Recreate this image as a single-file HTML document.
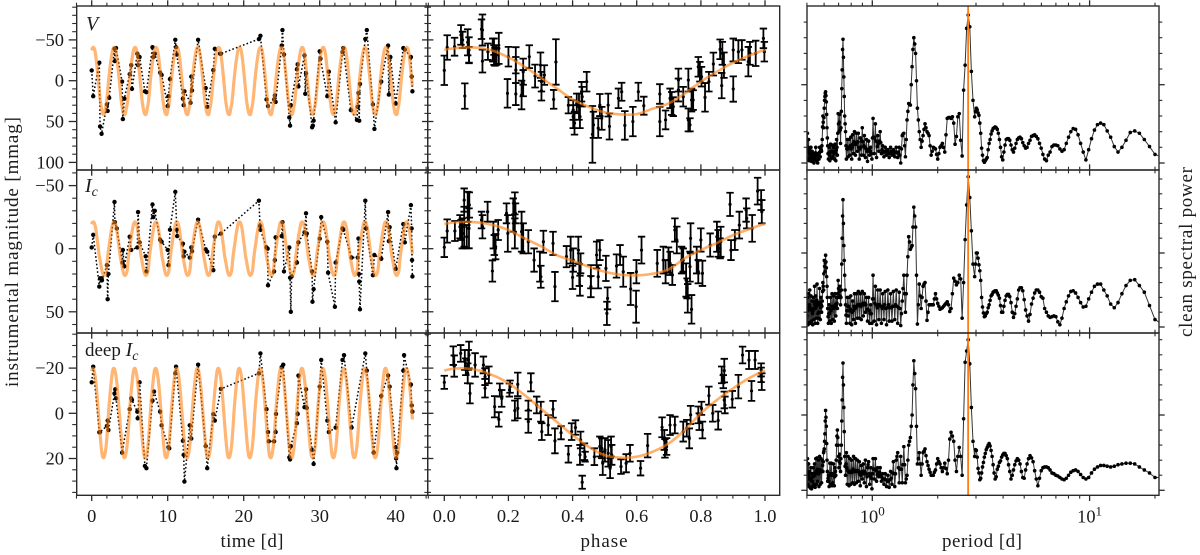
<!DOCTYPE html>
<html lang="en">
<head>
<meta charset="utf-8">
<title>Light curves, phase folds and periodograms</title>
<style>
html,body{margin:0;padding:0;background:#fff;}
svg{display:block;}
text{font-family:"Liberation Serif",serif;fill:#1c1c1c;}
</style>
</head>
<body>
<svg id="chart" xmlns="http://www.w3.org/2000/svg" width="1200" height="555" viewBox="0 0 1200 555">
  <defs>
    <clipPath id="clip-0-0"><rect x="76.7" y="6" width="351" height="164"/></clipPath>
    <clipPath id="clip-0-1"><rect x="76.7" y="170" width="351" height="163"/></clipPath>
    <clipPath id="clip-0-2"><rect x="76.7" y="333" width="351" height="162.3"/></clipPath>
    <clipPath id="clip-1-0"><rect x="427.7" y="6" width="352" height="164"/></clipPath>
    <clipPath id="clip-1-1"><rect x="427.7" y="170" width="352" height="163"/></clipPath>
    <clipPath id="clip-1-2"><rect x="427.7" y="333" width="352" height="162.3"/></clipPath>
    <clipPath id="clip-2-0"><rect x="807" y="6" width="352" height="164"/></clipPath>
    <clipPath id="clip-2-1"><rect x="807" y="170" width="352" height="163"/></clipPath>
    <clipPath id="clip-2-2"><rect x="807" y="333" width="352" height="162.3"/></clipPath>
  </defs>
  <g id="marks"></g>
  <g id="axes"></g>
  <text x="86" y="30" font-size="20" font-style="italic">V</text>
  <text x="85" y="192" font-size="20" font-style="italic">I<tspan dy="4" font-size="14">c</tspan></text>
  <text x="85" y="356" font-size="19">deep <tspan font-style="italic" font-size="20">I</tspan><tspan font-style="italic" dy="4" font-size="14">c</tspan></text>
  <text x="252" y="547" font-size="19" text-anchor="middle" textLength="63" lengthAdjust="spacing">time [d]</text>
  <text x="604" y="547" font-size="19" text-anchor="middle" textLength="47" lengthAdjust="spacing">phase</text>
  <text x="982" y="547" font-size="19" text-anchor="middle" textLength="80" lengthAdjust="spacing">period [d]</text>
  <text transform="translate(18,252) rotate(-90)" font-size="19" text-anchor="middle" textLength="270" lengthAdjust="spacing">instrumental magnitude [mmag]</text>
  <text transform="translate(1192,252) rotate(-90)" font-size="19" text-anchor="middle" textLength="170" lengthAdjust="spacing">clean spectral power</text>
</svg>
<script>
// ---------- time series (days, mmag) ----------
const timeV=[0,.2,1,1.1,1.3,2,2.1,2.3,3,3.05,
3.2,4,4.1,4.3,5,5.2,5.3,6,6.1,6.3,
7,7.2,8,8.1,8.3,9,9.2,10,10.1,10.3,
11,11.1,11.2,12,12.1,12.2,13,13.1,13.2,14,
15,15.2,16,16.2,16.9,17,22,22.2,23,23.2,
24,24.1,24.2,25,25.1,25.3,26,26.1,26.2,27,
27.1,27.2,28,28.1,28.2,29,29.1,29.2,30,30.1,
31,31.2,32.1,33,33.1,34.1,34.9,35,35.1,35.2,
35.3,36,36.2,37,37.2,38.1,39,39.1,39.3,40,
41,41.2,42,42.1,42.2];
const magV=[-12.6,19,-22,56,65,29,37,21,-39,-24,
-40,1,47,22,-8,-19,10,-33,-19,-29,
13,14,-41,-29,-33,-10,-7,31,19,-2,
-50,-41,-32,22,30,13,27,-5,12,-50,
9,32,-13,-39,-33,-33,-51,-55,23,31,
23,18,26,-43,-62,-32,45,55,30,-14,
-20,7,-31,16,-9,57,55,49,-36,-27,
19,-11,51,-35,-40,36,48,32,15,49,
4,-51,-62,29,59,1,-43,17,-29,28,
-40,-38,-29,-5,13];
const timeI=[0,.2,1,1.1,1.3,1.35,2,2.1,2.2,3,
3.05,3.3,4.05,4.1,4.3,5,5.2,6,6.1,6.3,
7.1,7.2,8,8.1,8.3,9,9.2,10,10.1,10.3,
11,11.2,11.25,12,12.1,12.2,12.9,13.1,13.2,14,
15,15.2,16,16.2,17,22,22.15,22.2,23,23.15,
23.2,24,24.1,24.2,25,25.1,25.3,26,26.1,26.2,
26.3,27,27.2,28,28.2,28.3,29,29.05,29.2,30,
30.2,31,31.1,32,32.1,33,33.1,34.2,35,35.1,
35.15,35.2,35.3,36,36.1,37,37.2,38.1,39,39.1,
39.2,40,41,41.2,42,42.1,42.15,42.2];
const magI=[-1,-11,30,23.5,23.5,25,13,40,20,-37,
-21,-16,11,1,14,-9.5,1,-1,-29,-5,
6,18,-35,-25,-30,-7,-5.5,1,13,-15,
-45,-15,-10,-4,6,2.4,7,-1,2,-23,
.5,2.4,17,-9.5,-12,-38,-18,-15,-1,0,
29,18,9,-9,-10,-21,18,-1,23,50,
22,11,-5,-13,-28,-12,18,42,32,-8,
-25,-5.5,19,46,11,-16,-15,7,7,-8,
20,26,48,-38,-16,21,5,8,-29,-6,
-17,16,-19.5,-5,-34.5,-16,9,22];
const timeD=[0,.2,1,1.1,2,2.1,2.2,3,3.1,3.2,
4,5,5.2,5.3,6,6.05,6.3,7,7.2,8,
8.2,9,9.2,10.1,10.2,11,11.1,12,12.1,12.2,
12.9,13.1,14,15,15.2,16,16.2,17,22,22.2,
23,23.2,23.3,24,24.2,24.25,25,25.2,26,26.1,
26.2,27,27.1,27.2,28,28.2,28.3,29,29.2,30,
30.2,31,31.2,32.1,33,33.2,34.2,36,36.2,37.1,
38.1,39,39.2,40,40.05,40.1,40.2,41,41.1,42,
42.1,42.2];
const magD=[-13.7,-20.6,8.4,8.3,5.6,3.2,7.4,-8.8,-10.6,-6.6,
17.4,-1.8,-6.6,-5.9,-.7,2.2,-13.7,23.3,24.3,-5.6,
-9.6,-.7,5.3,15,15.5,-17.7,-20.6,12.2,18.4,30.2,
5.3,11.2,-21.5,14.5,24.3,.4,3.2,-10.8,-17.7,-26.5,
-1.8,8.3,12.4,12.4,8.3,.3,-20.4,-21.5,19.5,20.4,
14.5,4.4,.3,-16.7,-2.7,-10.6,-2.4,16.2,22.4,-11.8,
-23.6,3.2,8.3,6.3,-23.6,-25.7,6.3,-26.5,-18.9,17.4,
-7.7,-16.7,-11.8,15,20,24.3,17.4,-18.9,-25.7,-12.7,
-3.5,-.7];

// ---------- phase-folded points (phase, mmag, error) ----------
const phaseV=[0,.009,.032,.052,.057,.064,.073,.077,.077,.116,
.119,.119,.136,.151,.155,.155,.158,.163,.17,.197,
.2,.223,.223,.223,.241,.246,.246,.265,.283,.3,
.303,.303,.312,.341,.348,.387,.402,.402,.406,.413,
.42,.423,.428,.43,.444,.462,.465,.48,.485,.491,
.511,.515,.543,.553,.563,.588,.605,.622,.672,.672,
.69,.704,.709,.714,.73,.73,.745,.761,.761,.766,
.771,.776,.792,.797,.802,.813,.825,.839,.86,.867,
.865,.872,.901,.901,.917,.928,.948,.953,.971,.995,.998];
const phaseMagV=[-12.7,-40.6,-41.6,-56,-50,18.8,-47,-37.6,-31.4,-63,
-62,-24,-35.5,-37.6,-41.6,-31.4,-29.4,-31.4,-39.6,15.5,
-29.4,-25,-13,16.3,17.5,-11,3,-29.4,-5.7,-19,
1.2,12.2,-6.9,22.8,-22.9,30,35.9,44,52,27.8,
31.8,44,13.5,19.6,1.2,65.7,54,58,29.8,46,
29.8,56,21.6,13.5,54.7,50,13.5,30.6,16.3,50,
48,21.6,27.8,31.8,-.8,11.4,19.6,-.8,48,54,
23.7,23.7,-17,-11,-4.9,20.4,1.2,-20.4,-38.4,-33.5,
6,-19,10.2,-37.6,-35.5,-37.6,-23.3,-33.5,-33.5,-51.8,-35.5];
const phaseErrV=[18,15,11,12,10,15.5,16,15.5,10,12,
19,14,10,14,10,12,11,12,19,17.5,
12,16,16,13.5,17.5,16,16,14,14,15.5,
12,12,12,11.5,27.8,10,12,14,14,12,
16,14,12,12,12,34.7,16,12,13.5,14,
14,16,12,11,17.5,18,11,11,12,18,
11.5,12,14,11.5,14,14,12,14,14,8,
14,12,12,12,12,17.5,12,14,12,14,
15.5,15.5,15.5,14,14,12,18,14,15.5,12,12];
const phaseI=[0,.009,.033,.049,.052,.056,.062,.062,.07,.073,
.078,.077,.116,.119,.135,.15,.153,.156,.16,.168,
.194,.198,.215,.22,.22,.222,.241,.246,.262,.28,
.298,.301,.309,.339,.345,.381,.394,.4,.402,.418,
.421,.423,.425,.457,.457,.48,.475,.485,.504,.507,
.509,.537,.548,.558,.581,.598,.599,.615,.664,.683,
.69,.699,.704,.711,.719,.725,.74,.745,.754,.757,
.759,.768,.771,.766,.787,.792,.8,.805,.829,.85,
.854,.86,.862,.891,.894,.906,.92,.941,.943,.96,
.977,.988,.99];
const phaseMagI=[-1.1,-14,-14,-17.4,-14.8,-12.1,-38.5,-17.4,-9.5,-33.2,
-34.6,-16.1,-22.7,-17.4,-29.3,17.7,-10.8,-2.9,-1.6,-14.8,
-28,-12.1,-26.6,-35.9,-12.1,-28,-13.5,-8.2,-5.5,9,
14.2,22.2,-5.5,-4.2,30,6.3,1.1,22.7,9,1.1,
20.8,29.3,11.6,22.2,30,22.2,5,1.1,15.6,51.2,
39.3,13.7,5,18.2,31.9,45.9,18.2,1.1,11.6,9,
18.2,9,11.6,20.8,-14.8,-6.9,9,9,24.8,31.4,
39.3,-8.2,48,14.2,9,18.2,-6.9,19.5,-2.9,-9.5,
-4.2,-.3,-5.5,-35.1,1.1,-6.9,-18.7,-30.6,-24,-16.1,
-45.6,-38.5,-29.3];
const phaseErrI=[7.7,9.2,7.9,9.2,7.9,11.9,9.2,15.8,9.2,11.9,
10,15.8,6.6,9.2,7.9,8.4,10.6,7.9,10,7.9,
7.9,14.5,13.2,8.7,11.9,7.9,15.8,11.9,9.2,9.2,
11.9,8.7,8.7,9.2,11.6,8.4,10.6,9.2,9.2,10.6,
8.7,7.9,7.9,9.2,8.4,9.2,10.6,7.9,10,9.2,
8.7,9.2,7.9,11.9,12.7,12.7,9.2,10.6,10.6,10.6,
9.2,10,9.2,7.9,9.2,10.6,10.6,9.2,13.2,7.9,
11.3,11.9,11.3,11.9,10.6,9.2,9.2,10,9.2,11.9,
10.6,7.9,11.9,9.2,7.9,7.9,10.6,9.2,7.9,10.6,
10.6,7.9,9.2];
const phaseD=[0,.028,.031,.051,.064,.067,.073,.077,.075,.08,
.096,.122,.127,.127,.139,.157,.17,.173,.179,.203,
.205,.22,.229,.229,.262,.262,.27,.288,.304,.301,
.324,.339,.345,.364,.387,.397,.409,.423,.425,.43,
.437,.439,.468,.485,.491,.494,.501,.511,.517,.52,
.522,.551,.567,.579,.612,.634,.679,.686,.688,.693,
.704,.719,.745,.756,.764,.768,.792,.795,.802,.805,
.825,.837,.854,.865,.873,.87,.873,.875,.898,.917,
.93,.95,.958,.969,.988,.99,.988];
const phaseMagD=[-13.7,-25.5,-20.9,-26.5,-23.6,-20.6,-17.7,-25.8,-23.6,-8.8,
-21.4,-21.4,-16.2,-11.1,-17,-2.9,2.7,-10.3,-6.6,-10.3,
-11.8,-1.2,-12.8,-2.2,3.7,-1.5,-13.7,-3.7,8.1,-.7,
5.2,-1.8,12.2,8.6,18.1,8.1,6.3,18.4,11.8,30.5,
17,19.2,19.2,14.7,15.5,22.1,16.2,17.7,24.3,14.7,
18.4,23.6,22.1,17.7,24.3,14.3,6.2,11.8,15.5,14.7,
5.2,5.2,8.1,6.6,11.1,.7,.7,3.7,-2.2,7.4,
-7.8,0,3.2,-17,-18.9,-14,-5.9,-3.7,-6.2,-11.8,
-25.8,-23.6,-9.9,-23.6,-17,-14,-19.2];
const phaseErrD=[2.9,4.1,4.7,3.7,4.4,3.7,4.4,5.9,4.4,4.4,
5.2,3.7,3.7,4.1,3.7,4.7,3.2,2.9,3.7,2.9,
2.7,4.4,5.2,4.4,4.9,4.1,4,3.7,3.7,4.4,
4.4,3.7,5.5,2.9,3.7,3.7,3.2,4.4,3.7,2.9,
3.7,2.2,3.7,4.4,4.4,5.2,5.2,5.9,4.4,4.4,
4.4,3.2,4,3.7,3.2,5.2,4.4,4.4,4.1,3.7,
4.4,3.7,4.4,3.7,4.4,4,3.7,3.7,2.9,3.7,
4,3.7,4,3.7,5.2,2.9,3.7,3.7,3.7,5.2,
3.7,4,4.4,4,3.2,3.7,2.9];

// ---------- fitted model read at fixed phases (mmag) ----------
const modelPhase=[0,.05,.1,.15,.2,.25,.3,.35,.4,.45,.5,.55,.6,.65,.7,.75,.8,.85,.9,.95,1];
const modelV=[-37.6,-40.4,-40.4,-36.8,-28.6,-17.2,-4.1,9.3,22.8,31.8,38.7,41.2,40.8,34.2,27.7,15.5,1.2,-11,-22,-30.6,-37.6];
const modelI=[-19.6,-21.1,-20.9,-18.8,-14.8,-8.2,-2.1,5,9.5,14.2,18.2,20.6,21.1,19.8,16.3,7.6,1,-4.5,-10.7,-15.4,-19.6];
const modelD=[-18.9,-19.9,-19.2,-16.9,-13.3,-8.1,-2.2,3.7,9.6,14.8,18.5,19.6,19.2,17,13.3,7.4,0,-5.9,-11,-15.5,-18.9];
const foldPeriodDays=[2.75];
const foldEpochDays=[0.01];
const modelTimeRange=[0,42.2];

// ---------- clean spectra: frequency (1/d) and power ----------
const specFreq=[2.000,1.994,1.988,1.982,1.976,1.970,1.964,1.958,1.952,1.946,
1.940,1.934,1.928,1.922,1.916,1.910,1.904,1.898,1.892,1.886,
1.880,1.874,1.868,1.862,1.856,1.850,1.844,1.838,1.832,1.826,
1.820,1.814,1.808,1.802,1.796,1.790,1.784,1.778,1.772,1.766,
1.760,1.754,1.748,1.742,1.736,1.730,1.724,1.718,1.712,1.706,
1.700,1.694,1.688,1.682,1.676,1.670,1.664,1.658,1.652,1.646,
1.640,1.634,1.628,1.622,1.616,1.610,1.604,1.598,1.592,1.586,
1.580,1.574,1.568,1.562,1.556,1.550,1.544,1.538,1.532,1.526,
1.520,1.514,1.508,1.502,1.496,1.490,1.484,1.478,1.472,1.466,
1.460,1.454,1.448,1.442,1.436,1.430,1.424,1.418,1.412,1.406,
1.400,1.394,1.388,1.382,1.376,1.370,1.364,1.358,1.352,1.346,
1.340,1.334,1.328,1.322,1.316,1.310,1.304,1.298,1.292,1.286,
1.280,1.274,1.268,1.262,1.256,1.250,1.244,1.238,1.232,1.226,
1.220,1.214,1.208,1.202,1.196,1.190,1.184,1.178,1.172,1.166,
1.160,1.154,1.148,1.142,1.136,1.130,1.124,1.118,1.112,1.106,
1.100,1.094,1.088,1.082,1.076,1.070,1.064,1.058,1.052,1.046,
1.040,1.034,1.028,1.022,1.016,1.010,1.004,.998,.992,.986,
.980,.974,.968,.962,.956,.950,.944,.938,.932,.926,
.920,.914,.908,.902,.896,.890,.884,.878,.872,.866,
.860,.854,.848,.842,.836,.830,.824,.818,.812,.806,
.800,.794,.788,.782,.776,.770,.764,.758,.752,.746,
.740,.734,.728,.722,.716,.710,.704,.698,.692,.686,
.680,.674,.668,.662,.656,.650,.644,.638,.632,.626,
.620,.614,.608,.602,.596,.590,.584,.578,.572,.566,
.560,.554,.548,.542,.536,.530,.524,.518,.512,.506,
.500,.494,.488,.482,.476,.470,.464,.458,.452,.446,
.440,.434,.428,.422,.416,.410,.404,.398,.392,.386,
.380,.374,.368,.362,.356,.350,.344,.338,
.335,.332,.329,.326,.323,.320,.317,.314,.311,.308,
.305,.302,.299,.296,.293,.290,.287,.284,.281,.278,
.275,.272,.269,.266,.263,.260,.257,.254,.251,.248,
.245,.242,.239,.236,.233,.230,.227,.224,.221,.218,
.215,.212,.209,.206,.203,.200,.197,.194,.191,.188,
.185,.182,.179,.176,.173,.170,.167,.164,.161,.158,
.155,.152,.149,.146,.143,.140,.137,.134,.131,.128,
.125,.122,.119,.116,.113,.110,.107,.104,.101,.098,
.095,.092,.089,.086,.083,.080,.077,.074,.071,.068,
.065,.062,.059,.056,.053,.050,.047];
const powerV=[.15,.30,.38,.20,.06,.18,.30,.15,.03,.12,
.18,.10,.06,.14,.20,.10,.02,.08,.15,.08,
.04,.09,.12,.05,.00,.06,.10,.08,.05,.13,
.20,.10,.03,.07,.10,.04,.00,.07,.12,.08,
.05,.13,.20,.14,.08,.15,.20,.17,.15,.22,
.30,.46,.60,.52,.45,.58,.70,.80,.85,.89,
.91,.86,.78,.62,.45,.32,.22,.12,.05,.13,
.20,.10,.03,.14,.24,.14,.06,.15,.23,.15,
.08,.14,.20,.12,.05,.15,.24,.13,.03,.17,
.30,.20,.10,.38,.63,.50,.40,.52,.62,.42,
.25,.45,.66,.95,1.19,1.45,1.58,1.35,1.10,.85,
.60,.50,.40,.22,.05,.18,.30,.18,.08,.20,
.30,.20,.10,.22,.33,.18,.05,.20,.36,.24,
.12,.27,.40,.24,.10,.24,.38,.26,.15,.27,
.38,.20,.05,.18,.32,.20,.10,.28,.45,.27,
.10,.22,.35,.20,.07,.18,.30,.15,.02,.15,
.28,.18,.10,.15,.20,.12,.05,.32,.57,.33,
.12,.32,.50,.28,.07,.21,.35,.25,.15,.28,
.40,.26,.12,.17,.22,.15,.08,.14,.20,.15,
.10,.14,.17,.12,.07,.13,.20,.15,.10,.13,
.17,.12,.08,.14,.20,.13,.07,.14,.20,.10,
.00,.18,.35,.37,.38,.22,.08,.30,.55,.66,
.76,.75,.74,1.00,1.23,1.45,1.60,1.52,1.40,1.05,
.70,.55,.40,.30,.20,.28,.35,.43,.50,.45,
.40,.38,.35,.22,.10,.15,.20,.19,.18,.11,
.05,.12,.20,.22,.25,.20,.14,.36,.57,.58,
.58,.57,.59,.51,.24,.34,.59,.63,.29,.09,
.93,1.25,1.72,1.89,1.74,1.17,.80,.59,
.66,.70,.68,.64,.61,.51,.38,.19,.10,.03,
.01,.03,.05,.07,.17,.25,.30,.37,.41,.44,
.45,.46,.45,.43,.38,.30,.20,.08,.04,.14,
.23,.30,.31,.31,.29,.23,.17,.14,.19,.25,
.30,.32,.33,.31,.26,.22,.19,.20,.25,.29,
.34,.35,.36,.34,.31,.25,.19,.11,.05,.03,
.10,.14,.21,.23,.23,.22,.18,.15,.17,.25,
.33,.40,.44,.43,.36,.25,.14,.04,.17,.31,
.42,.49,.51,.49,.41,.33,.21,.14,.20,.29,
.39,.41,.38,.30,.21,.11,.08];
const powerI=[.15,.30,.40,.22,.03,.25,.45,.28,.06,.30,
.50,.26,.05,.24,.42,.25,.08,.22,.35,.18,
.03,.22,.40,.25,.10,.34,.55,.30,.05,.25,
.42,.27,.12,.36,.58,.32,.05,.18,.30,.20,
.12,.33,.52,.30,.10,.26,.40,.30,.20,.28,
.35,.48,.60,.55,.50,.72,.90,.82,.75,.87,
.97,.88,.80,.68,.55,.40,.25,.14,.05,.18,
.30,.18,.08,.25,.40,.22,.05,.26,.45,.28,
.10,.26,.42,.25,.08,.27,.45,.30,.15,.28,
.40,.32,.25,.45,.63,.52,.40,.48,.55,.42,
.30,.40,.50,.85,1.20,1.50,1.72,1.40,1.10,.90,
.70,.50,.30,.16,.05,.22,.40,.28,.15,.28,
.40,.22,.05,.24,.42,.22,.03,.20,.35,.22,
.10,.28,.45,.25,.05,.26,.45,.28,.12,.30,
.48,.30,.12,.30,.45,.28,.10,.30,.48,.32,
.15,.30,.45,.32,.20,.30,.40,.24,.08,.24,
.40,.22,.05,.18,.30,.18,.05,.38,.70,.38,
.08,.32,.55,.30,.03,.26,.50,.30,.10,.30,
.50,.28,.05,.25,.45,.28,.10,.30,.48,.25,
.03,.26,.50,.30,.08,.26,.45,.26,.08,.28,
.48,.28,.10,.30,.50,.28,.05,.26,.47,.25,
.02,.18,.35,.52,.70,.45,.20,.45,.70,.95,
1.22,1.15,1.05,1.08,1.10,1.35,1.62,1.50,1.35,.70,
.04,.30,.58,.42,.25,.40,.55,.58,.60,.35,
.09,.20,.30,.30,.30,.30,.30,.38,.45,.38,
.32,.28,.24,.25,.26,.28,.30,.32,.34,.30,
.21,.25,.45,.66,.62,.57,.60,.70,.65,.12,
.60,1.18,1.65,2.03,1.75,1.30,.85,.68,
.85,1.00,1.00,.93,.84,.76,.63,.40,.27,.19,
.14,.15,.18,.20,.26,.30,.36,.42,.44,.47,
.48,.49,.49,.46,.43,.39,.29,.20,.20,.28,
.36,.42,.44,.44,.41,.33,.20,.13,.18,.28,
.38,.50,.53,.53,.49,.37,.23,.15,.08,.17,
.31,.39,.46,.50,.50,.47,.41,.39,.25,.20,
.15,.13,.14,.15,.14,.07,.03,.12,.25,.34,
.42,.48,.49,.46,.40,.33,.27,.28,.38,.47,
.55,.58,.58,.50,.42,.31,.26,.33,.45,.56,
.63,.64,.56,.47,.29,.10,.05];
const powerD=[.25,.36,.42,.24,.08,.22,.35,.20,.05,.16,
.25,.14,.03,.16,.30,.16,.02,.12,.22,.12,
.05,.18,.30,.19,.08,.22,.35,.20,.04,.22,
.42,.25,.08,.26,.43,.28,.12,.26,.40,.22,
.05,.26,.45,.27,.08,.25,.42,.26,.10,.25,
.40,.33,.25,.38,.50,.52,.55,.65,.75,.92,
1.06,.97,.85,.62,.40,.25,.12,.16,.20,.12,
.05,.20,.36,.22,.08,.22,.36,.20,.06,.08,
.10,.22,.35,.20,.06,.18,.30,.25,.20,.40,
.60,.72,.80,.70,.60,.45,.30,.38,.48,.36,
.25,.42,.60,.92,1.20,1.50,1.69,1.40,1.10,.78,
.45,.32,.20,.35,.50,.30,.08,.26,.45,.25,
.06,.24,.42,.25,.08,.24,.40,.24,.10,.28,
.45,.26,.08,.25,.42,.26,.10,.25,.40,.26,
.12,.25,.38,.22,.06,.20,.33,.24,.15,.25,
.35,.22,.10,.25,.40,.22,.05,.18,.30,.34,
.38,.22,.08,.19,.30,.16,.02,.22,.42,.28,
.15,.28,.42,.26,.12,.21,.30,.24,.18,.24,
.30,.21,.12,.17,.22,.15,.08,.15,.22,.14,
.05,.12,.20,.12,.04,.14,.25,.16,.08,.23,
.38,.22,.05,.22,.40,.45,.50,.30,.10,.28,
.45,.28,.10,.34,.58,.34,.10,.15,.20,.40,
.60,.65,.70,.85,1.00,1.40,1.72,1.55,1.35,.85,
.35,.42,.50,.35,.20,.35,.50,.52,.55,.46,
.38,.33,.28,.24,.20,.20,.20,.24,.27,.35,
.42,.38,.35,.30,.25,.30,.36,.29,.22,.40,
.68,.77,.72,.65,.40,.25,.45,.57,.45,.20,
.95,1.70,1.85,2.00,1.68,1.10,.65,.45,
.54,.53,.44,.29,.23,.14,.16,.23,.31,.37,
.44,.49,.54,.57,.60,.62,.59,.53,.45,.34,
.23,.15,.18,.28,.32,.37,.39,.44,.47,.49,
.49,.46,.42,.34,.25,.15,.20,.27,.34,.39,
.42,.40,.35,.25,.17,.16,.27,.35,.42,.46,
.43,.38,.26,.15,.06,.16,.26,.30,.31,.31,
.30,.27,.23,.22,.20,.19,.17,.15,.14,.16,
.20,.24,.26,.27,.25,.21,.17,.15,.17,.23,
.28,.31,.33,.33,.32,.31,.32,.34,.35,.36,
.36,.35,.31,.27,.23,.17,.17];
const bestPeriod=[2.76];

// ---------- tick values and labels ----------
const timeMajor=[0,10,20,30,40];
const timeMinor=[-2,2,4,6,8,12,14,16,18,22,24,26,28,32,34,36,38,42,44];
const phaseMajor=[0,.2,.4,.6,.8,1];
const phaseLabels=["0.0","0.2","0.4","0.6","0.8","1.0"];
const phaseMinor=[-.05,.05,.1,.15,.25,.3,.35,.45,.5,.55,.65,.7,.75,.85,.9,.95,1.05];
const periodMajor=[1,10];
const periodMajorExp=["0","1"];
const periodMinor=[.5,.6,.7,.8,.9,2,3,4,5,6,7,8,9,20];
const magMajorV=[-50,0,50,100];
const magMinorV=[-90,-80,-70,-60,-40,-30,-20,-10,10,20,30,40,60,70,80,90];
const magMajorI=[-50,0,50];
const magMinorI=[-60,-40,-30,-20,-10,10,20,30,40,60];
const magMajorD=[-20,0,20];
const magMinorD=[-35,-30,-25,-15,-10,-5,5,10,15,25,30,35];
const powerMajor=[0,1];
const powerMinorV=[.2,.4,.6,.8,1.2,1.4,1.6,1.8];
const powerMinorI=[.2,.4,.6,.8,1.2,1.4,1.6,1.8,2];
const powerMinorD=[.2,.4,.6,.8,1.2,1.4,1.6,1.8,2];

// ---------- layout and axis functions ----------
const NS='http://www.w3.org/2000/svg';
const marks=document.getElementById('marks');
const axes=document.getElementById('axes');
const COL=[[76.7,427.7],[427.7,779.7],[807,1159]];
const ROW=[[6,170],[170,333],[333,495.3]];
const xTime=t=>91.7+7.6*t;
const xPhase=p=>444.3+320.7*p;
const xPeriod=P=>872.3+217.3*Math.log10(P);
const yMagFns=[v=>80.7+.817*v,v=>248.7+1.263*v,v=>413.3+2.26*v];
const yPowerFns=[v=>163-78.3*v,v=>327-74*v,v=>490.3-75.3*v];
const minus=s=>String(s).replace('-','\u2212');
const fixed=n=>n.toFixed(1);

function mk(parent,tag,attrs){
  const el=document.createElementNS(NS,tag);
  for(const k in attrs){el.setAttribute(k,attrs[k]);}
  parent.appendChild(el);
  return el;
}
function tick(x1,y1,x2,y2,major){
  const el=mk(axes,'line',{x1:fixed(x1),y1:fixed(y1),x2:fixed(x2),y2:fixed(y2),stroke:'#2a2a2a','stroke-width':major?1.3:1.1});
  
  
}
function label(x,y,str,anchor){
  const el=mk(axes,'text',{x:fixed(x),y:fixed(y),'font-size':18.4,'text-anchor':anchor});
  el.textContent=str;
  
  
  return el;
}
function modelAt(table,phase){
  const p=((phase%1)+1)%1;
  const n=modelPhase.length-1;
  let i=0;
  while(i<n-1&&modelPhase[i+1]<=p){i++;}
  const f=(p-modelPhase[i])/(modelPhase[i+1]-modelPhase[i]);
  const v=k=>table[((k%n)+n)%n];
  const p0=v(i-1),p1=v(i),p2=v(i+1),p3=v(i+2);
  return .5*(2*p1+(p2-p0)*f+(2*p0-5*p1+4*p2-p3)*f*f+(3*p1-p0-3*p2+p3)*f*f*f);
}
function xTicks(xf,major,minor,col,row){
  const [l,r]=COL[col];
  const [t,b]=ROW[row];
  major.forEach(v=>{
    const x=xf(v);
    tick(x,t,x,t-5.7,true);
    tick(x,b,x,b+5.7,true);
  });
  minor.forEach(v=>{
    const x=xf(v);
    if(x<l-1||x>r+1){return;}
    tick(x,t,x,t-3.3,false);
    tick(x,b,x,b+3.3,false);
  });
}
function yTicksAt(x,dir,yf,major,minor,majLen,minLen){
  major.forEach(v=>{const y=yf(v);tick(x,y,x+dir*majLen,y,true);});
  minor.forEach(v=>{const y=yf(v);tick(x,y,x+dir*minLen,y,false);});
}

// ---------- per-row data bundles ----------
const rowTime=[timeV,timeI,timeD];
const rowMag=[magV,magI,magD];
const rowPhase=[phaseV,phaseI,phaseD];
const rowPhaseMag=[phaseMagV,phaseMagI,phaseMagD];
const rowPhaseErr=[phaseErrV,phaseErrI,phaseErrD];
const rowModel=[modelV,modelI,modelD];
const rowPower=[powerV,powerI,powerD];
const rowMagMajor=[magMajorV,magMajorI,magMajorD];
const rowMagMinor=[magMinorV,magMinorI,magMinorD];
const rowPowerMinor=[powerMinorV,powerMinorI,powerMinorD];

for(let r=0;r<3;r++){
  const yMag=yMagFns[r];
  const yPow=yPowerFns[r];
  const times=rowTime[r];
  const mags=rowMag[r];

  // left panel: dotted series, points, model
  const g0=mk(marks,'g',{'clip-path':'url(#clip-0-'+r+')'});
  
  
  const dotted=mk(g0,'path',{d:times.map((t,i)=>(i?'L':'M')+xTime(t).toFixed(2)+' '+yMag(mags[i]).toFixed(2)).join(''),fill:'none',stroke:'#000','stroke-width':1.5,'stroke-dasharray':'1.6 2.2'});
  
  
  times.forEach((t,i)=>{
    const c=mk(g0,'circle',{cx:xTime(t).toFixed(2),cy:yMag(mags[i]).toFixed(2),r:2.2,fill:'#000'});
    
    
  });
  let dT='';
  for(let k=0,t=modelTimeRange[0];t<=modelTimeRange[1];k++,t=modelTimeRange[0]+k*.04){
    const ph=(t-foldEpochDays[0])/foldPeriodDays[0];
    dT+=(k?'L':'M')+xTime(t).toFixed(2)+' '+yMag(modelAt(rowModel[r],ph)).toFixed(2);
  }
  const modelT=mk(g0,'path',{d:dT,fill:'none',stroke:'#ff7f0e','stroke-opacity':.58,'stroke-width':3.2,'stroke-linejoin':'round'});
  
  

  // middle panel: error bars, model
  const g1=mk(marks,'g',{'clip-path':'url(#clip-1-'+r+')'});
  
  
  rowPhase[r].forEach((p,i)=>{
    const m=rowPhaseMag[r][i];
    const e=rowPhaseErr[r][i];
    const x=xPhase(p);
    const y1=yMag(m-e);
    const y2=yMag(m+e);
    const d='M'+x.toFixed(2)+' '+y1.toFixed(2)+'V'+y2.toFixed(2)
      +'M'+(x-3.7).toFixed(2)+' '+y1.toFixed(2)+'H'+(x+3.7).toFixed(2)
      +'M'+(x-3.7).toFixed(2)+' '+y2.toFixed(2)+'H'+(x+3.7).toFixed(2);
    const bar=mk(g1,'path',{d:d,fill:'none',stroke:'#000','stroke-width':1.8});
    
    
    const dot=mk(g1,'circle',{cx:x.toFixed(2),cy:yMag(m).toFixed(2),r:1.6,fill:'#000'});
    
    
  });
  let dP='';
  for(let k=0;k<=200;k++){
    const ph=k/200;
    const val=k===200?rowModel[r][rowModel[r].length-1]:modelAt(rowModel[r],ph);
    dP+=(k?'L':'M')+xPhase(ph).toFixed(2)+' '+yMag(val).toFixed(2);
  }
  const modelP=mk(g1,'path',{d:dP,fill:'none',stroke:'#ff7f0e','stroke-opacity':.62,'stroke-width':2.6});
  
  

  // right panel: spectrum
  const g2=mk(marks,'g',{'clip-path':'url(#clip-2-'+r+')'});
  
  
  const pows=rowPower[r];
  const specLine=mk(g2,'path',{d:specFreq.map((f,i)=>(i?'L':'M')+xPeriod(1/f).toFixed(2)+' '+yPow(pows[i]).toFixed(2)).join(''),fill:'none',stroke:'#333','stroke-width':1});
  
  
  specFreq.forEach((f,i)=>{
    const c=mk(g2,'circle',{cx:xPeriod(1/f).toFixed(2),cy:yPow(pows[i]).toFixed(2),r:1.8,fill:'#000'});
    
    
  });
  const best=mk(g2,'line',{x1:xPeriod(bestPeriod[0]).toFixed(2),x2:xPeriod(bestPeriod[0]).toFixed(2),y1:ROW[r][0],y2:ROW[r][1],stroke:'#ff7f0e','stroke-width':1.8});
  
  

  // ticks
  xTicks(xTime,timeMajor,timeMinor,0,r);
  xTicks(xPhase,phaseMajor,phaseMinor,1,r);
  xTicks(xPeriod,periodMajor,periodMinor,2,r);
  yTicksAt(COL[0][0],-1,yMag,rowMagMajor[r],rowMagMinor[r],8,4.5);
  yTicksAt(COL[0][1],1,yMag,rowMagMajor[r],rowMagMinor[r],5.7,3.3);
  yTicksAt(COL[1][0],-1,yMag,rowMagMajor[r],rowMagMinor[r],5.7,3.3);
  yTicksAt(COL[2][0],-1,yPow,powerMajor,rowPowerMinor[r],5.7,3.3);
  yTicksAt(COL[2][1],1,yPow,powerMajor,rowPowerMinor[r],5.7,3.3);

  // y tick labels
  rowMagMajor[r].forEach(v=>{label(64,yMag(v)+6,minus(v),'end');});

  // frames
  for(let c=0;c<3;c++){
    const fr=mk(axes,'rect',{x:COL[c][0],y:ROW[r][0],width:COL[c][1]-COL[c][0],height:ROW[r][1]-ROW[r][0],fill:'none',stroke:'#2a2a2a','stroke-width':1.4});
    
    
  }
}

// x tick labels on the bottom row
timeMajor.forEach(v=>{label(xTime(v),522,String(v),'middle');});
phaseMajor.forEach((v,i)=>{label(xPhase(v),522,phaseLabels[i],'middle');});
periodMajor.forEach((v,i)=>{
  const el=label(xPeriod(v),522.5,'10','middle');
  const sup=mk(el,'tspan',{dy:-7,'font-size':13});
  sup.textContent=periodMajorExp[i];
  
  
});
</script>
</body>
</html>
